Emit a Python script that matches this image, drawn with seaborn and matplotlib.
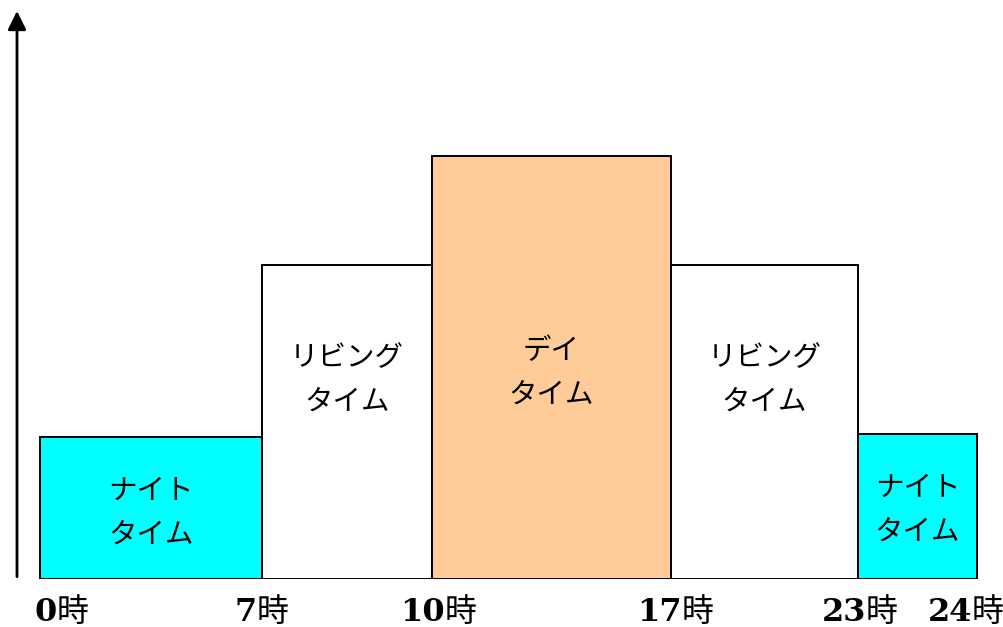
import numpy as np
import pandas as pd
import matplotlib
matplotlib.use("Agg")
import matplotlib.pyplot as plt
import seaborn as sns

# Time bands of the day (schematic widths, not proportional to hours)
band_names = ["ナイト\nタイム", "リビング\nタイム", "デイ\nタイム", "リビング\nタイム", "ナイト\nタイム"]
band_widths = [222, 170, 239, 187, 119]
band_levels = [1.42, 3.14, 4.23, 3.14, 1.45]
band_colors = ["#00FFFF", "#FFFFFF", "#FFCC99", "#FFFFFF", "#00FFFF"]
hour_labels = ["0", "7", "10", "17", "23", "24"]

sns.set_theme(style="white")
plt.rcParams["font.family"] = ["Noto Sans CJK JP", "DejaVu Sans"]
plt.rcParams["text.color"] = "black"

edges = np.concatenate([[0], np.cumsum(band_widths)]).astype(float)
centers = (edges[:-1] + edges[1:]) / 2
df = pd.DataFrame({"pos": centers, "level": band_levels})

fig = plt.figure(figsize=(10.04, 6.27), dpi=100)
ax = fig.add_axes([17 / 1004, (627 - 579) / 627, 987 / 1004, (579 - 11) / 627])

sns.histplot(data=df, x="pos", weights="level", bins=[float(e) for e in edges],
             stat="count", ax=ax, edgecolor="black", linewidth=1.4, alpha=1)
for patch, col in zip(ax.patches, band_colors):
    patch.set_facecolor(col)
    patch.set_edgecolor("black")
    patch.set_linewidth(1.4)

ax.set_xlim(-23, 964)
ax.set_ylim(0, 5.68)
ax.set_xlabel("")
ax.set_ylabel("")
ax.set_xticks([])
ax.set_yticks([])
for side in ax.spines.values():
    side.set_visible(False)

# Vertical axis drawn as an arrow
ax.annotate("", xy=(0, 1), xytext=(0, 0.004), xycoords="axes fraction",
            arrowprops=dict(arrowstyle="-|>,head_length=0.75,head_width=0.37",
                            mutation_scale=15, lw=2, color="black",
                            shrinkA=0, shrinkB=0))

# Band names inside the bars
label_y = [band_levels[0] / 2 - 0.05, 1.99, band_levels[2] / 2 - 0.05,
           1.99, band_levels[4] / 2 - 0.03]
for x, y, name in zip(centers, label_y, band_names):
    ax.text(x, y, name, ha="center", va="center", fontsize=20.5,
            linespacing=1.6, color="black")

# Hour labels at band boundaries: bold serif digits followed by 時
label_shift = [12.2, -3.6, 9.4, 7.9, 5.8, -3.6]
for x, h, dx in zip(edges, hour_labels, label_shift):
    ax.annotate(h, xy=(x, 0), xytext=(dx, -30.5), textcoords="offset points",
                ha="right", va="baseline", fontsize=23, fontweight="bold",
                family="DejaVu Serif", color="black", annotation_clip=False)
    ax.annotate("時", xy=(x, 0), xytext=(dx, -30.5), textcoords="offset points",
                ha="left", va="baseline", fontsize=23, color="black",
                family=["Noto Sans CJK JP"], annotation_clip=False)

fig.savefig("out.png", dpi=100)
